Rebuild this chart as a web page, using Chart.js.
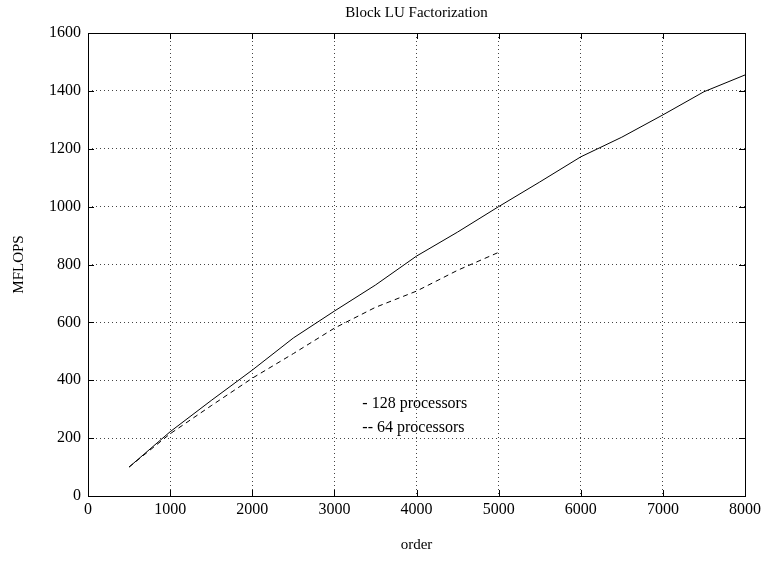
<!DOCTYPE html>
<html>
<head>
<meta charset="utf-8">
<script src="https://cdn.jsdelivr.net/npm/chart.js@4.4.0/dist/chart.umd.min.js"></script>
<style>
  html, body { margin: 0; padding: 0; background: #fff; }
  #wrap { width: 768px; height: 563px; }
</style>
</head>
<body>
<div id="wrap"><canvas id="chartLU" width="768" height="563"></canvas></div>
<script>
// dados
var order128 = [500, 1000, 1500, 2000, 2500, 3000, 3500, 4000, 4500, 5000, 5500, 6000, 6500, 7000, 7500, 8000]
var mflops128 = [100, 222, 330, 435, 546, 639, 729, 829, 912, 1000, 1085, 1172, 1240, 1317, 1397, 1455]
var order64 = [500, 1000, 1500, 2000, 2500, 3000, 3500, 4000, 4500, 5000]
var mflops64 = [100, 215, 312, 407, 492, 580, 652, 708, 780, 842]
var xTicks = [0, 1000, 2000, 3000, 4000, 5000, 6000, 7000, 8000]
var yTicks = [0, 200, 400, 600, 800, 1000, 1200, 1400, 1600]
var legendLines = ['- 128 processors', '-- 64 processors']

var serif = '"Liberation Serif", "DejaVu Serif", serif'

function pts(xs, ys) {
    return xs.map(function (x, i) { return { x: x, y: ys[i] } })
}

// moldura, marcas internas, títulos e legenda
var framePlugin = {
    id: 'frame',
    afterDraw: function (chart) {
        var ctx = chart.ctx
        var a = chart.chartArea
        var sx = chart.scales.x
        var sy = chart.scales.y
        ctx.save()
        ctx.strokeStyle = '#000'
        ctx.lineWidth = 1
        ctx.strokeRect(a.left + 0.5, a.top + 0.5, a.right - a.left, a.bottom - a.top)
        ctx.beginPath()
        xTicks.forEach(function (t) {
            var px = Math.round(sx.getPixelForValue(t)) + 0.5
            ctx.moveTo(px, a.bottom); ctx.lineTo(px, a.bottom - 6)
            ctx.moveTo(px, a.top); ctx.lineTo(px, a.top + 6)
        })
        yTicks.forEach(function (t) {
            var py = Math.round(sy.getPixelForValue(t)) + 0.5
            ctx.moveTo(a.left, py); ctx.lineTo(a.left + 6, py)
            ctx.moveTo(a.right, py); ctx.lineTo(a.right - 6, py)
        })
        ctx.stroke()

        ctx.fillStyle = '#000'
        ctx.font = '15px ' + serif
        ctx.textAlign = 'center'
        ctx.textBaseline = 'middle'
        ctx.fillText('Block LU Factorization', (a.left + a.right) / 2, 13)
        ctx.fillText('order', (a.left + a.right) / 2, 545)
        ctx.save()
        ctx.translate(19, (a.top + a.bottom) / 2)
        ctx.rotate(-Math.PI / 2)
        ctx.fillText('MFLOPS', 0, 0)
        ctx.restore()

        ctx.font = '16px ' + serif
        ctx.textAlign = 'left'
        ctx.fillText(legendLines[0], sx.getPixelForValue(3340), sy.getPixelForValue(318))
        ctx.fillText(legendLines[1], sx.getPixelForValue(3340), sy.getPixelForValue(235))
        ctx.restore()
    }
}

var chartLU = new Chart(document.getElementById('chartLU'), {
    type: 'scatter',
    data: {
        datasets: [{
            label: '128 processors',
            data: pts(order128, mflops128),
            showLine: true,
            borderColor: '#000',
            borderWidth: 1,
            pointRadius: 0,
            tension: 0
        }, {
            label: '64 processors',
            data: pts(order64, mflops64),
            showLine: true,
            borderColor: '#000',
            borderWidth: 1,
            borderDash: [5, 4],
            pointRadius: 0,
            tension: 0
        }]
    },
    options: {
        responsive: false,
        animation: false,
        layout: { padding: { top: 33, right: 23, left: 0, bottom: 0 } },
        plugins: {
            legend: { display: false },
            title: { display: false },
            tooltip: { enabled: false }
        },
        scales: {
            x: {
                type: 'linear',
                min: 0,
                max: 8000,
                afterBuildTicks: function (s) { s.ticks = xTicks.map(function (v) { return { value: v } }) },
                afterFit: function (s) { s.height = 67 },
                grid: { color: '#444', drawTicks: false },
                border: { display: false, dash: [1, 3] },
                ticks: {
                    color: '#000', font: { family: serif, size: 16 }, padding: 4, maxRotation: 0,
                    callback: function (v) { return String(v) }
                }
            },
            y: {
                min: 0,
                max: 1600,
                afterBuildTicks: function (s) { s.ticks = yTicks.map(function (v) { return { value: v } }) },
                afterFit: function (s) { s.width = 88 },
                grid: { color: '#444', drawTicks: false },
                border: { display: false, dash: [1, 3] },
                ticks: {
                    color: '#000', font: { family: serif, size: 16 }, padding: 7,
                    callback: function (v) { return String(v) }
                }
            }
        }
    },
    plugins: [framePlugin]
})
</script>
</body>
</html>
